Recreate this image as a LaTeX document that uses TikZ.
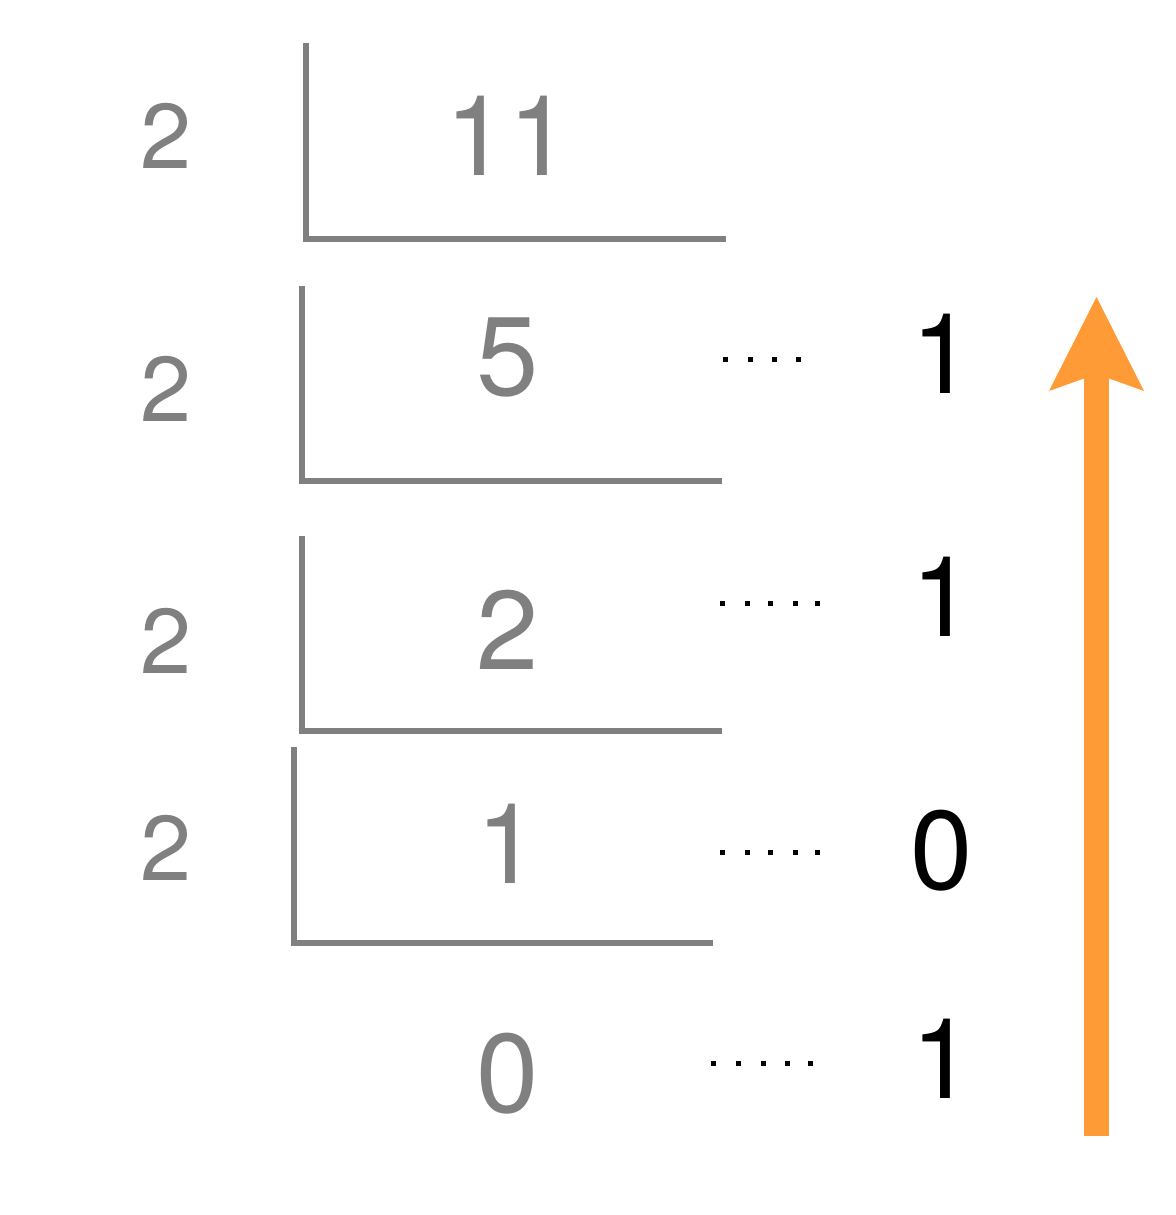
\documentclass[tikz,border=0pt]{standalone}
\usepackage{fontspec}
\setmainfont{TeX Gyre Heros}
\usetikzlibrary{arrows.meta}
\definecolor{divgray}{RGB}{128,128,128}
\definecolor{arroworange}{RGB}{255,155,55}
\begin{document}
\begin{tikzpicture}[x=0.5pt,y=-0.5pt,
  divisor/.style={text=divgray, font=\fontsize{46}{46}\selectfont, inner sep=0pt, outer sep=0pt, anchor=base},
  quotient/.style={text=divgray, font=\fontsize{56}{56}\selectfont, inner sep=0pt, outer sep=0pt, anchor=base},
  remainder/.style={text=black, font=\fontsize{56}{56}\selectfont, inner sep=0pt, outer sep=0pt, anchor=base},
  bracket/.style={draw=divgray, line width=3pt, line join=miter, line cap=butt},
  dotmark/.style={fill=black},
  upflow/.style={draw=arroworange, line width=12.5pt, -{Stealth[length=47pt,width=47.5pt,inset=8.5pt,line width=0pt,fill=arroworange]}}]
\useasboundingbox (0,0) rectangle (1176,1215);
% division brackets
\draw[bracket] (306,43) -- (306,239) -- (726,239);
\draw[bracket] (302,286) -- (302,481) -- (722,481);
\draw[bracket] (302,536) -- (302,731) -- (722,731);
\draw[bracket] (294,747) -- (294,943) -- (713,943);
% divisors
\node[divisor] (d1) at (166,168) {2};
\node[divisor] (d2) at (166,421) {2};
\node[divisor] (d3) at (166,673) {2};
\node[divisor] (d4) at (166,880) {2};
% quotients
\node[quotient] (q0) at (508,175) {11};
\node[quotient] (q1) at (508,395) {5};
\node[quotient] (q2) at (508,669) {2};
\node[quotient] (q3) at (508,883) {1};
\node[quotient] (q4) at (508,1112) {0};
% remainders
\node[remainder] (r1) at (943,393) {1};
\node[remainder] (r2) at (943,636) {1};
\node[remainder] (r3) at (942,889) {0};
\node[remainder] (r4) at (943,1098) {1};
% dotted leaders
\foreach \x in {725,750,774,798} \fill[dotmark] (\x-2.5,356.5) rectangle +(5,5);
\foreach \x in {722,747,770,795,817} \fill[dotmark] (\x-2.5,600.5) rectangle +(5,5);
\foreach \x in {722,747,770,795,817} \fill[dotmark] (\x-2.5,849.5) rectangle +(5,5);
\foreach \x in {713,738,763,787,810} \fill[dotmark] (\x-2.5,1060.5) rectangle +(5,5);
% upward arrow
\coordinate (flowstart) at (1096.5,1136);
\coordinate (flowend) at (1096.5,297);
\draw[upflow] (flowstart) -- (flowend);
\end{tikzpicture}
\end{document}
